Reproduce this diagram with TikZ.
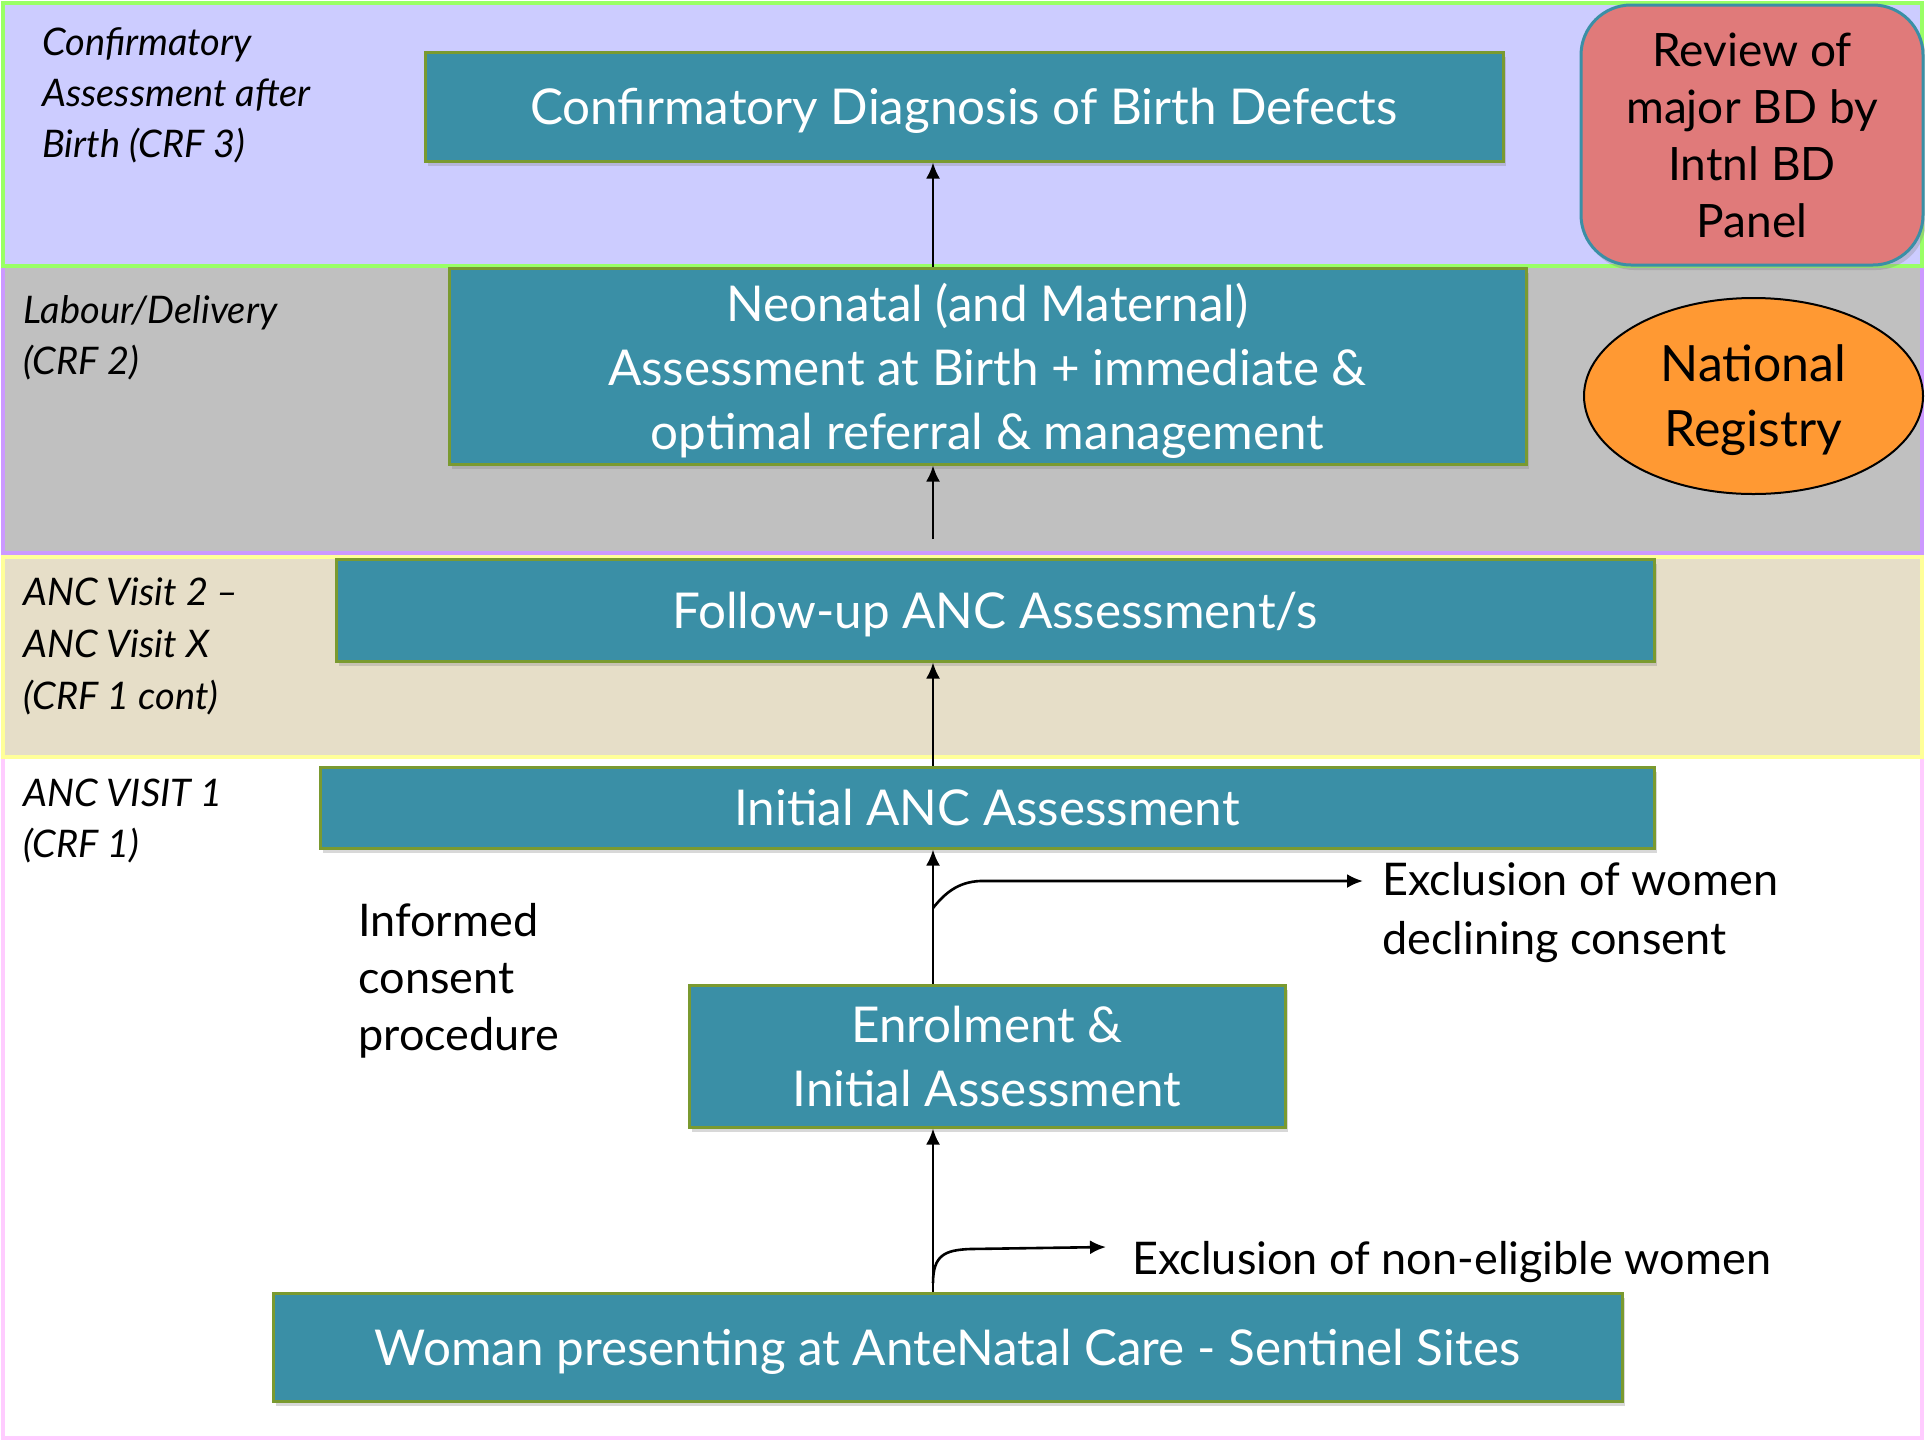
\documentclass[tikz,border=0pt]{standalone}
\usepackage{fontspec}
\setmainfont{Lato}
\usepackage{tikz}
\usetikzlibrary{arrows.meta,shapes.geometric,shadows}

\definecolor{boxfill}{RGB}{58,143,166}
\definecolor{boxline}{RGB}{122,154,48}
\definecolor{bandone}{RGB}{204,204,255}
\definecolor{bandtwo}{RGB}{192,192,192}
\definecolor{bandthree}{RGB}{230,222,200}
\definecolor{lineone}{RGB}{153,255,102}
\definecolor{linetwo}{RGB}{204,153,255}
\definecolor{linethree}{RGB}{255,255,153}
\definecolor{linefour}{RGB}{255,204,255}
\definecolor{reviewfill}{RGB}{224,122,122}
\definecolor{registryfill}{RGB}{255,153,51}

\begin{document}
\begin{tikzpicture}[x=0.5pt, y=-0.5pt,
  stage/.style={draw=boxline, line width=1.5pt, fill=boxfill, text=white, align=center,
    inner sep=0pt, text depth=0pt, font=\fontsize{24.7}{32}\selectfont,
    drop shadow={opacity=0.3, shadow xshift=1.5pt, shadow yshift=-2.5pt}},
  band/.style={line width=2pt},
  crf/.style={anchor=north west, align=left, inner sep=0pt,
    font=\itshape\fontsize{19}{25.5}\selectfont},
  note/.style={anchor=north west, align=left, inner sep=0pt,
    font=\fontsize{22.5}{28.5}\selectfont},
  >={Latex[length=8pt,width=7pt]}]
  \useasboundingbox[fill=white] (0,0) rectangle (1925,1441);

  % layers, bottom one first
  \draw[band, draw=linefour, fill=white] (3,757) rectangle (1922,1438);
  \draw[band, draw=linethree, fill=bandthree] (3,557) rectangle (1922,757);
  \draw[band, draw=linetwo, fill=bandtwo] (3,266) rectangle (1922,553);
  \draw[band, draw=lineone, fill=bandone] (3,3) rectangle (1922,266);

  \node[crf] (crfthree) at (42,27) {Confirmatory\\Assessment after\\Birth (CRF 3)};
  \node[crf] (crftwo) at (23,295) {Labour/Delivery\\(CRF 2)};
  \node[crf, font=\itshape\fontsize{19}{26}\selectfont] (crfcont) at (23,577)
    {ANC Visit 2 --\\ANC Visit X\\(CRF 1 cont)};
  \node[crf] (crfone) at (23,779) {ANC VISIT 1\\(CRF 1)};

  % boxes
  \node[stage, minimum width=539pt, minimum height=54.5pt] (confirm) at (964,106.5)
    {Confirmatory Diagnosis of Birth Defects};
  \node[stage, minimum width=538.5pt, minimum height=98pt] (neonatal) at (987.5,366)
    {Neonatal (and Maternal)\\Assessment at Birth + immediate \&\\optimal referral \& management};
  \node[stage, minimum width=659pt, minimum height=51pt] (followup) at (995,610)
    {Follow-up ANC Assessment/s};
  \node[stage, minimum width=667pt, minimum height=40.5pt] (initial) at (987,807.5)
    {Initial ANC Assessment};
  \node[stage, minimum width=298pt, minimum height=71pt] (enrol) at (987,1056)
    {Enrolment \&\\Initial Assessment};
  \node[stage, minimum width=674.5pt, minimum height=54pt] (woman) at (947.5,1347)
    {Woman presenting at AnteNatal Care - Sentinel Sites};

  \node[draw=boxfill, line width=1.5pt, fill=reviewfill, rounded corners=25pt,
    minimum width=171pt, minimum height=130pt, inner sep=0pt, align=center,
    text depth=0pt, font=\fontsize{23}{28.5}\selectfont,
    drop shadow={opacity=0.3, shadow xshift=1.5pt, shadow yshift=-2.5pt}] (review) at (1752,135)
    {Review of\\major BD by\\Intnl BD\\Panel};
  \node[ellipse, draw=black, line width=1pt, fill=registryfill, minimum width=169.5pt,
    minimum height=98pt, inner sep=0pt, align=center, text depth=0pt,
    font=\fontsize{25}{32.5}\selectfont] (registry) at (1753.5,396) {National\\Registry};

  \node[note] (consent) at (358,903) {Informed\\consent\\procedure};
  \node[note, font=\fontsize{22.5}{29.5}\selectfont] (declined) at (1382,862)
    {Exclusion of women\\declining consent};
  \node[note] (ineligible) at (1132,1241) {Exclusion of non-eligible women};

  % connectors
  \coordinate (spine) at (933,0);
  \coordinate (gap) at (933,539);
  \coordinate (forkone) at (933,908);
  \coordinate (forktwo) at (933,1283);
  \coordinate (outone) at (1363,881);
  \coordinate (outtwo) at (1106,1247);

  \path[->, line width=1.3pt]
  (spine |- neonatal.north) edge (spine |- confirm.south)
  (gap) edge (spine |- neonatal.south)
  (spine |- initial.north) edge (spine |- followup.south)
  (spine |- enrol.north) edge (spine |- initial.south)
  (spine |- woman.north) edge (spine |- enrol.south);
  \draw[->, line width=1.3pt] (forkone) .. controls (945,893) and (958,882) .. (980,881) -- (outone);
  \draw[->, line width=1.3pt] (forktwo) .. controls (933,1255) and (945,1250) .. (970,1249) -- (outtwo);
\end{tikzpicture}
\end{document}
